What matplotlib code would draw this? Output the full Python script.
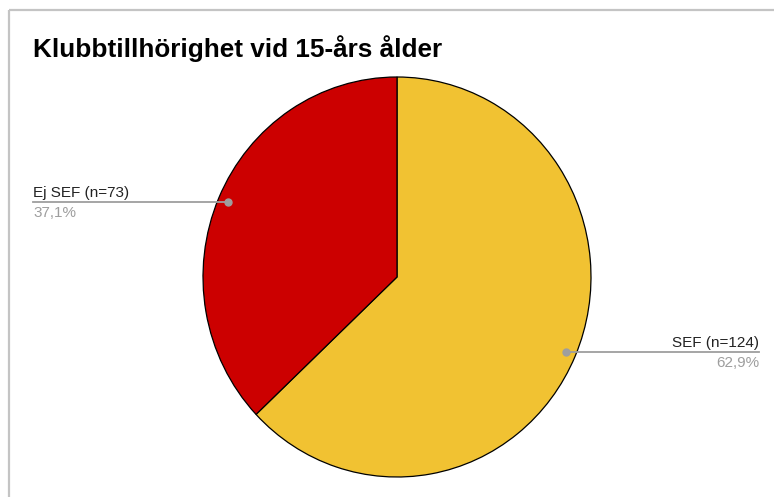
import numpy as np
import matplotlib.pyplot as plt

# data
labels = ['SEF (n=124)', 'Ej SEF (n=73)']
counts = [124, 73]
pct_labels = ['62,9%', '37,1%']
colors = ['#F1C232', '#CC0000']

W, H = 774, 497
plt.rcParams['font.family'] = ['Liberation Sans', 'DejaVu Sans']

# pie is slightly taller than wide in the reference
rx, ry = 194, 200
k = rx / ry

fig = plt.figure(figsize=(W / 100, H / 100), dpi=100)
ax = fig.add_axes([0, 0, 1, 1])


# pixel y (from top) -> data y
def py(y):
    return (H - y) * k


cx, cy = 397, py(277)
wedges, _ = ax.pie(counts, colors=colors, startangle=90, counterclock=False,
                   center=(cx, cy), radius=rx, frame=True,
                   wedgeprops=dict(edgecolor='black', linewidth=0.9))
ax.set_aspect('auto')
ax.set_xlim(0, W)
ax.set_ylim(0, H * k)
ax.axis('off')

# outer frame lines (spreadsheet chart border)
ax.plot([9, W], [py(10), py(10)], color='#c4c4c4', lw=1.6, solid_capstyle='butt')
ax.plot([9, 9], [py(10), 0], color='#c4c4c4', lw=1.6, solid_capstyle='butt')

ax.text(33, py(57), 'Klubbtillhörighet vid 15-års ålder', fontsize=18.8,
        fontweight='bold', color='black', ha='left', va='baseline')

# leader lines and labels
label_x = {0: 759, 1: 33}
for i, w in enumerate(wedges):
    mid = np.deg2rad((w.theta1 + w.theta2) / 2)
    dx = cx + 0.95 * rx * np.cos(mid)
    dy = cy + 0.95 * rx * np.sin(mid)
    lx = label_x[i]
    ax.plot([dx, lx], [dy, dy], color='#9e9e9e', lw=1.3, zorder=5)
    ax.plot(dx, dy, 'o', color='#9e9e9e', ms=5, zorder=6)
    ha = 'right' if lx > cx else 'left'
    ax.text(lx, dy + 5 * k, labels[i], fontsize=11, color='#222222',
            ha=ha, va='baseline')
    ax.text(lx, dy - 15 * k, pct_labels[i], fontsize=11, color='#9e9e9e',
            ha=ha, va='baseline')

fig.savefig('out.png', dpi=100, facecolor='white')
